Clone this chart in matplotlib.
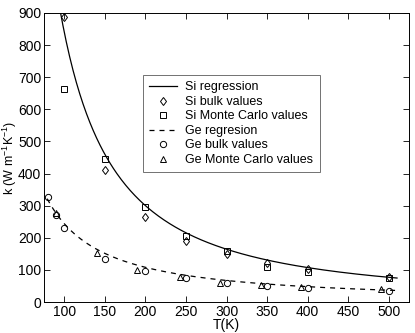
import numpy as np
import matplotlib
matplotlib.use('Agg')
from matplotlib import pyplot as plt

plt.rcParams['font.family'] = ['Liberation Sans', 'DejaVu Sans']
plt.rcParams['mathtext.fontset'] = 'custom'
plt.rcParams['mathtext.rm'] = 'Liberation Sans'
plt.rcParams['mathtext.it'] = 'Liberation Sans'

# Si data
si_bulk_t = [100, 150, 200, 250, 300, 350, 400, 500]
si_bulk_k = [888, 410, 265, 190, 149, 121, 102, 77]
si_mc_t = [100, 150, 200, 250, 300, 350, 400, 500]
si_mc_k = [662, 446, 295, 207, 160, 108, 92, 75]

# Ge data
ge_bulk_t = [80, 90, 100, 150, 200, 250, 300, 350, 400, 500]
ge_bulk_k = [326, 271, 232, 133, 97, 75, 60, 50, 45, 34]
ge_mc_t = [90, 140, 189, 242, 292, 342, 392, 490]
ge_mc_k = [277, 154, 100, 79, 60, 53, 47, 40]

# regression k = a * T^b
si_a, si_b = 7.84e5, -1.485
ge_a, ge_b = 5.46e4, -1.175

t_si = np.linspace(95.5, 510, 300)
t_ge = np.linspace(79, 510, 300)

fig = plt.figure(figsize=(4.15, 3.33), dpi=100)
ax = fig.add_axes([0.106, 0.093, 0.88, 0.868])

ax.plot(t_si, si_a * t_si**si_b, '-', color='k', lw=0.9, label='Si regression')
ax.plot(si_bulk_t, si_bulk_k, 'd', mfc='none', mec='k', ms=4.5, mew=0.7, label='Si bulk values')
ax.plot(si_mc_t, si_mc_k, 's', mfc='none', mec='k', ms=3.8, mew=0.7, label='Si Monte Carlo values')
ax.plot(t_ge, ge_a * t_ge**ge_b, '--', color='k', lw=0.9, dashes=(4, 4), label='Ge regresion')
ax.plot(ge_bulk_t, ge_bulk_k, 'o', mfc='none', mec='k', ms=4.5, mew=0.7, label='Ge bulk values')
ax.plot(ge_mc_t, ge_mc_k, '^', mfc='none', mec='k', ms=4.5, mew=0.7, label='Ge Monte Carlo values')

ax.set_xlim(75, 525)
ax.set_ylim(0, 900)
ax.set_xticks(range(100, 501, 50))
ax.set_yticks(range(0, 901, 100))
ax.tick_params(direction='in', top=True, right=True, labelsize=10, length=4, width=0.6, pad=2)
for s in ax.spines.values():
    s.set_linewidth(0.7)
ax.set_xlabel('T(K)', fontsize=10)
ax.xaxis.set_label_coords(0.5, -0.055)
ax.set_ylabel('k (W m$^{-1}$K$^{-1}$)', fontsize=9)
ax.yaxis.set_label_coords(-0.068, 0.5)

leg = ax.legend(loc='upper left', bbox_to_anchor=(0.271, 0.785), fontsize=9,
                frameon=True, fancybox=False, labelspacing=0.2, handlelength=2.2,
                handletextpad=0.7, borderpad=0.5, borderaxespad=0)
leg.get_frame().set_edgecolor('0.3')
leg.get_frame().set_linewidth(0.7)

fig.savefig('out.png', dpi=100)
